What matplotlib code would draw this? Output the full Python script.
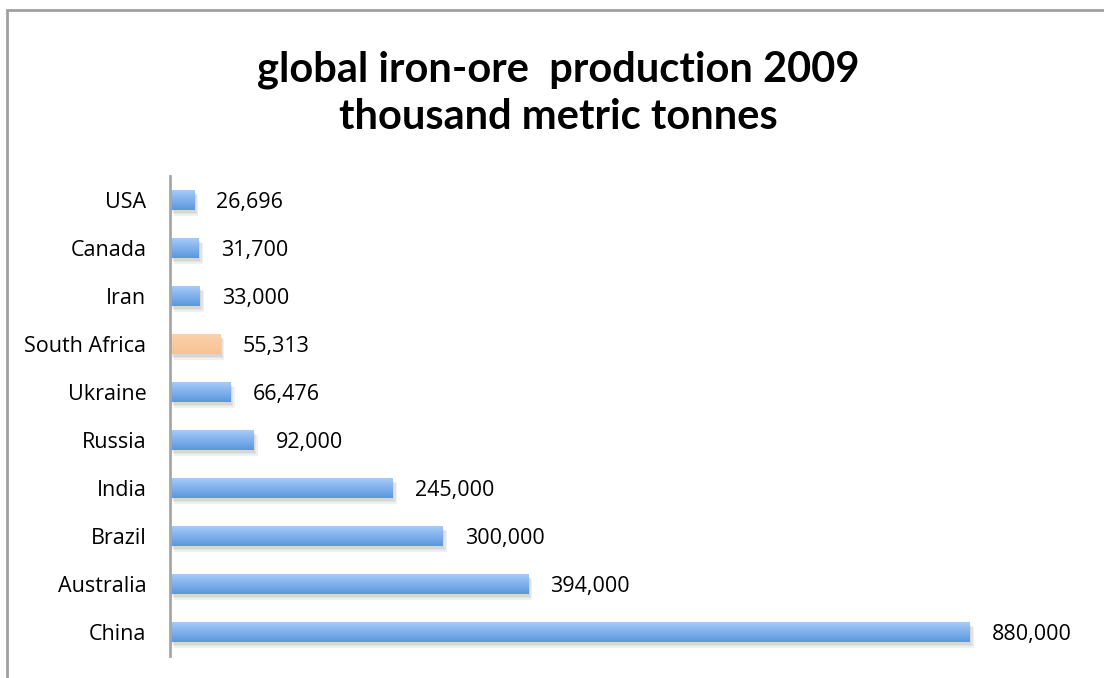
import numpy as np
import matplotlib.pyplot as plt
import matplotlib.patches as mpatches
import matplotlib.patheffects as pe
from matplotlib.colors import LinearSegmentedColormap

# iron-ore output by country, 2009 (thousand metric tonnes)
countries = ['China', 'Australia', 'Brazil', 'India', 'Russia',
             'Ukraine', 'South Africa', 'Iran', 'Canada', 'USA']
production = [880000, 394000, 300000, 245000, 92000,
              66476, 55313, 33000, 31700, 26696]
highlight = 'South Africa'

plt.rcParams['font.family'] = ['Open Sans', 'DejaVu Sans']

fig = plt.figure(figsize=(11.04, 6.78), dpi=100)
ax = fig.add_axes([170 / 1104, 22 / 678, 880 / 1104, 480 / 678])

blue_grad = LinearSegmentedColormap.from_list('bg', ['#5996dd', '#a9cefa'])
peach_grad = LinearSegmentedColormap.from_list('pg', ['#f7c395', '#fcd1ab'])
grad = np.linspace(0, 1, 64).reshape(-1, 1)

# soft drop shadow built from a few faint offset copies
shadow = [pe.SimplePatchShadow(offset=(o, -o - 1), shadow_rgbFace='#707070', alpha=0.1)
          for o in (1, 2, 3)]

y = np.arange(len(countries))
h = 0.42
bars = ax.barh(y, production, height=h, color='#7fb0ec', zorder=2)
for bar, name, val in zip(bars, countries, production):
    bar.set_path_effects(shadow + [pe.Normal()])
    cmap = peach_grad if name == highlight else blue_grad
    yc = bar.get_y()
    img = ax.imshow(grad, cmap=cmap, aspect='auto', origin='lower',
                    extent=(0, val, yc, yc + h), zorder=3, interpolation='bilinear')
    img.set_clip_path(bar)
    ax.annotate(f'{val:,}', xy=(val, yc + h / 2), xytext=(16, -1.5),
                textcoords='offset points', va='center', ha='left', fontsize=15.5)

ax.set_xlim(0, 968000)
ax.set_ylim(-0.5, len(countries) - 0.5)
ax.set_yticks(y)
ax.set_yticklabels(countries, fontsize=15.5)
ax.set_xticks([])
ax.tick_params(axis='y', length=0, pad=17)
for s in ['top', 'right', 'bottom']:
    ax.spines[s].set_visible(False)
ax.spines['left'].set_color('#a6a6a6')
ax.spines['left'].set_linewidth(2)
ax.spines['left'].set_zorder(4)

fig.text(558 / 1104, 1 - 93 / 678, 'global iron-ore  production 2009\nthousand metric tonnes',
         ha='center', va='center', fontsize=30, fontweight='bold', family=['Lato', 'DejaVu Sans'],
         linespacing=1.3)

# outer chart frame
fig.patches.append(mpatches.Rectangle((7 / 1104, -0.05), 1.1, 1 - 10 / 678 + 0.05,
                                      transform=fig.transFigure, fill=False,
                                      edgecolor='#a0a0a0', linewidth=2))

plt.savefig('out.png', dpi=100)
